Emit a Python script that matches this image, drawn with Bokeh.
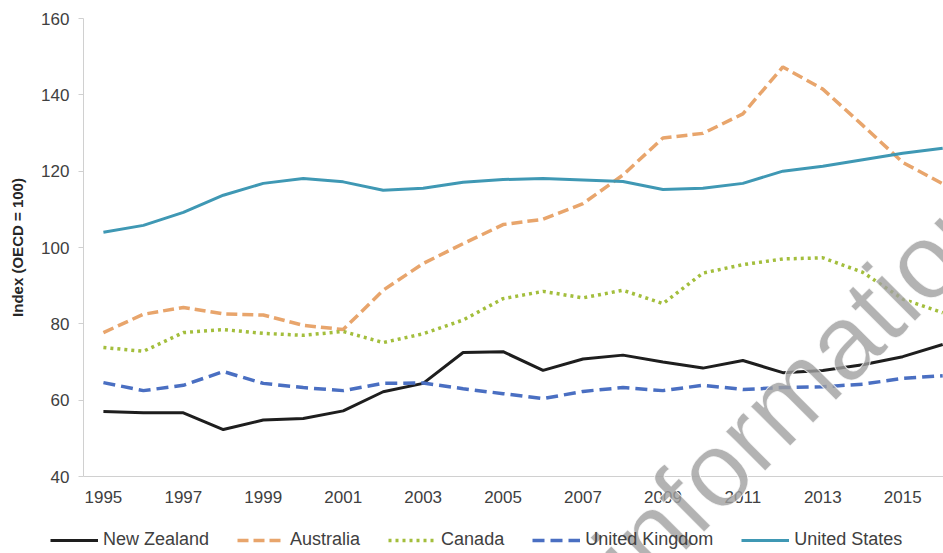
from bokeh.plotting import figure
from bokeh.models import Range1d, FixedTicker, Legend, LegendItem, Label
from bokeh.embed import file_html
from bokeh.resources import INLINE

# Index values, OECD average = 100
years = list(range(1995, 2017))
new_zealand = [57.0, 56.7, 56.7, 52.3, 54.8, 55.2, 57.2, 62.2, 64.4, 72.5, 72.7,
               67.8, 70.8, 71.8, 70.0, 68.4, 70.4, 67.2, 67.8, 69.3, 71.4, 74.6]
australia = [77.7, 82.5, 84.3, 82.6, 82.3, 79.6, 78.5, 88.8, 95.8, 101.0, 106.0,
             107.4, 111.5, 119.0, 128.7, 129.9, 135.0, 147.3, 141.5, 132.0, 122.3, 116.7]
canada = [73.8, 72.8, 77.7, 78.5, 77.5, 77.0, 78.0, 75.1, 77.4, 81.0, 86.6,
          88.5, 86.8, 88.8, 85.3, 93.3, 95.5, 97.0, 97.3, 93.5, 86.5, 82.9]
united_kingdom = [64.6, 62.5, 63.9, 67.5, 64.4, 63.3, 62.5, 64.4, 64.5, 63.0, 61.7,
                  60.4, 62.3, 63.3, 62.5, 63.9, 62.8, 63.3, 63.5, 64.2, 65.7, 66.4]
united_states = [104.0, 105.8, 109.2, 113.7, 116.8, 118.1, 117.2, 115.0, 115.5, 117.1, 117.8,
                 118.1, 117.7, 117.3, 115.2, 115.5, 116.8, 120.0, 121.3, 123.0, 124.7, 126.0]

x_ticks = list(range(1995, 2017, 2))
y_ticks = [40, 60, 80, 100, 120, 140, 160]

FONT = "Liberation Sans"
TEXT = "#404040"
AXIS = "#d0d0d0"

# Axes sit inside the frame (fixed_location) so the legend can live at the bottom.
X0, X1 = 1994.5, 2016.02
Y0, Y1 = 40, 160
PX_PER_YEAR = 40.0
PX_PER_UNIT = 458.0 / (Y1 - Y0)

p = figure(width=943, height=553, output_backend="svg", toolbar_location=None,
           x_range=Range1d(X0 - 83 / PX_PER_YEAR, X1),
           y_range=Range1d(Y0 - 77 / PX_PER_UNIT, Y1 + 18 / PX_PER_UNIT),
           min_border=0)
p.outline_line_color = None
p.grid.visible = False
p.background_fill_color = "white"

# x axis
p.xaxis.fixed_location = Y0
p.xaxis.bounds = (X0, X1)
p.xaxis.ticker = FixedTicker(ticks=x_ticks)
p.xaxis.axis_line_color = AXIS
p.xaxis.major_tick_out = 0
p.xaxis.major_tick_in = 0
p.xaxis.minor_tick_out = 0
p.xaxis.minor_tick_in = 0
p.xaxis.major_label_standoff = 14
p.xaxis.major_label_text_font = FONT
p.xaxis.major_label_text_font_size = "17px"
p.xaxis.major_label_text_color = TEXT

# y axis
p.yaxis.fixed_location = X0
p.yaxis.bounds = (Y0, Y1)
p.yaxis.ticker = FixedTicker(ticks=y_ticks)
p.yaxis.axis_line_color = AXIS
p.yaxis.major_tick_line_color = AXIS
p.yaxis.major_tick_out = 5
p.yaxis.major_tick_in = 0
p.yaxis.minor_tick_out = 0
p.yaxis.minor_tick_in = 0
p.yaxis.major_label_standoff = 9
p.yaxis.major_label_text_font = FONT
p.yaxis.major_label_text_font_size = "17px"
p.yaxis.major_label_text_color = TEXT
p.yaxis.axis_label = "Index (OECD = 100)"
p.yaxis.axis_label_text_font = FONT
p.yaxis.axis_label_text_font_size = "15px"
p.yaxis.axis_label_text_font_style = "bold"
p.yaxis.axis_label_text_color = "#262626"
p.yaxis.axis_label_standoff = 12

# series
r_nz = p.line(years, new_zealand, line_color="#1e1e1e", line_width=3)
r_au = p.line(years, australia, line_color="#e8a56c", line_width=3.5, line_dash="11 5")
r_ca = p.line(years, canada, line_color="#a3be3c", line_width=3.5, line_dash="3 4")
r_uk = p.line(years, united_kingdom, line_color="#4a6fc2", line_width=3.5, line_dash="12 6")
r_us = p.line(years, united_states, line_color="#3f98b4", line_width=3)

legend = Legend(items=[
    LegendItem(label="New Zealand", renderers=[r_nz]),
    LegendItem(label="Australia", renderers=[r_au]),
    LegendItem(label="Canada", renderers=[r_ca]),
    LegendItem(label="United Kingdom", renderers=[r_uk]),
    LegendItem(label="United States", renderers=[r_us]),
], orientation="horizontal", location=(50, 3))
legend.padding = 0
legend.margin = 0
legend.spacing = 28
legend.glyph_width = 48
legend.glyph_height = 20
legend.label_height = 20
legend.label_standoff = 5
legend.label_text_font = FONT
legend.label_text_font_size = "18px"
legend.label_text_color = TEXT
legend.border_line_color = None
legend.background_fill_alpha = 0
p.add_layout(legend, "center")

# diagonal overlay word across the lower right
overlay = Label(x=798, y=168, x_units="screen", y_units="screen", text="information",
                angle=45, angle_units="deg", text_font=FONT, text_font_size="106px",
                text_color="#a0a0a0", text_alpha=0.8, text_align="center",
                text_baseline="middle", text_outline_color="white")
p.add_layout(overlay)

open("out.html", "w").write(file_html(p, INLINE))
